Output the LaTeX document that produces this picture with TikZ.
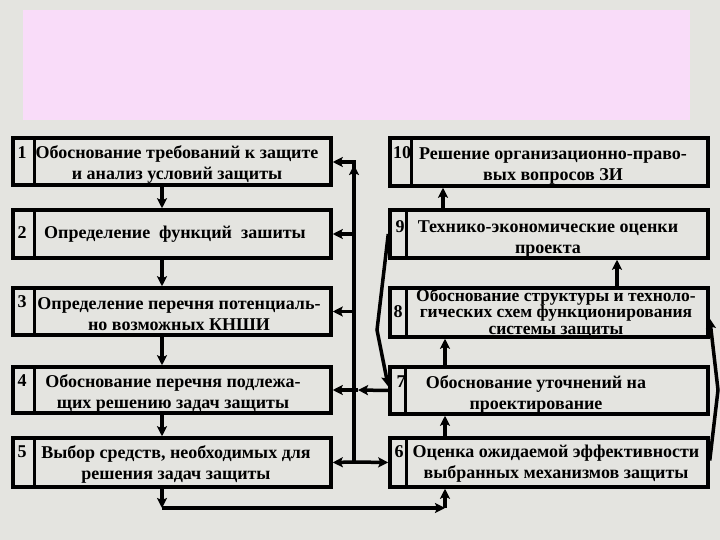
\documentclass[tikz,border=0pt]{standalone}
\usepackage{fontspec}
\setmainfont{Liberation Serif}
\usetikzlibrary{arrows.meta}
\definecolor{bggray}{RGB}{228,228,224}
\definecolor{pinkfill}{RGB}{249,220,249}
\tikzset{
  boxnode/.style={draw=black, line width=3.5pt, minimum width=318pt, inner sep=0pt},
  divline/.style={draw=black, line width=3.5pt},
  numtxt/.style={font=\fontsize{18}{20}\selectfont\bfseries, inner sep=0pt},
  boxtxt/.style={font=\fontsize{18}{21}\selectfont\bfseries, align=center, inner sep=0pt},
  tighttxt/.style={font=\fontsize{17.5}{16.5}\selectfont\bfseries, align=center, inner sep=0pt},
  conn/.style={draw=black, line width=3.5pt},
  arr/.style={conn, -{Stealth[length=10pt,width=10pt,inset=2pt]}},
}
\begin{document}
\begin{tikzpicture}[x=1pt,y=-1pt]
\useasboundingbox (0,0) rectangle (720,540);
\fill[bggray] (0,0) rectangle (720,540);
\fill[pinkfill] (23,10) rectangle (690,120);

% ---------- left column ----------
\node[boxnode, minimum height=47pt] (b1) at (172,161.5) {};
\node[boxnode, minimum height=48pt] (b2) at (172,234) {};
\node[boxnode, minimum height=47pt] (b3) at (172,311.5) {};
\node[boxnode, minimum height=46pt] (b4) at (172,390) {};
\node[boxnode, minimum height=49pt] (b5) at (172,462.5) {};
\foreach \b in {b1,b2,b3,b4,b5}{
  \draw[divline] ([xshift=23pt]\b.north west) -- ([xshift=23pt]\b.south west);
}
% ---------- right column ----------
\node[boxnode, minimum height=48pt] (b10) at (549,162) {};
\node[boxnode, minimum height=48pt] (b9) at (549,234) {};
\node[boxnode, minimum height=49pt] (b8) at (549,312.5) {};
\node[boxnode, minimum height=47pt] (b7) at (549,390.5) {};
\node[boxnode, minimum height=49pt] (b6) at (549,462.5) {};
\draw[divline] ([xshift=23pt]b10.north west) -- ([xshift=23pt]b10.south west);
\foreach \b in {b9,b8,b6}{
  \draw[divline] ([xshift=18pt]\b.north west) -- ([xshift=18pt]\b.south west);
}
\draw[divline] ([xshift=17pt]b7.north west) -- ([xshift=17pt]b7.south west);

% ---------- numbers ----------
\node[numtxt] (n1) at (22,153) {1};
\node[numtxt] (n2) at (22,233) {2};
\node[numtxt] (n3) at (22,302) {3};
\node[numtxt] (n4) at (22,381) {4};
\node[numtxt] (n5) at (22,452) {5};
\node[numtxt] (n10) at (402,153) {10};
\node[numtxt] (n9) at (400,227) {9};
\node[numtxt] (n8) at (398,312) {8};
\node[numtxt] (n7) at (401,382) {7};
\node[numtxt] (n6) at (399,452) {6};

% ---------- texts ----------
\node[boxtxt] (t1) at (177,165) {Обоснование требований к защите\\и анализ условий защиты};
\node[boxtxt] (t2) at (175,234) {Определение~~функций~~зашиты};
\node[boxtxt] (t3) at (179,314) {Определение перечня потенциаль-\\но возможных КНШИ};
\node[boxtxt] (t4) at (173,393) {Обоснование перечня подлежа-\\щих решению задач защиты};
\node[boxtxt] (t5) at (176,464) {Выбор средств, необходимых для\\решения задач защиты};
\node[boxtxt] (t10) at (553,166) {Решение организационно-право-\\вых вопросов ЗИ};
\node[boxtxt] (t9) at (548,239) {Технико-экономические оценки\\проекта};
\node[tighttxt] (t8) at (556,313) {Обоснование структуры и техноло-\\гических схем функционирования\\системы защиты};
\node[boxtxt] (t7) at (536,394) {Обоснование уточнений на\\проектирование};
\node[boxtxt] (t6) at (556,464) {Оценка ожидаемой эффективности\\выбранных механизмов защиты};

% ---------- helper coordinates ----------
\coordinate (cl) at (162,0);
\coordinate (cv) at (354,0);
\coordinate (ctop) at (354,162);
\coordinate (cbot) at (354,462);
\coordinate (cmid) at (358,390);
\coordinate (cb1) at (162,508);
\coordinate (cb2) at (445,508);
\coordinate (cr1) at (445,0);
\coordinate (cr2) at (617,0);
\coordinate (cr3) at (443,0);
\coordinate (cs1) at (377,330);
\coordinate (cs2) at (718,390);

% ---------- left chain ----------
\draw[arr] (b1.south -| cl) -- (b2.north -| cl);
\draw[arr] (b2.south -| cl) -- (b3.north -| cl);
\draw[arr] (b3.south -| cl) -- (b4.north -| cl);
\draw[arr] (b4.south -| cl) -- (b5.north -| cl);
\draw[arr] (b5.south -| cl) -- (cb1);
\draw[arr] (cb1) -- (cb2);
\draw[arr] (cb2) -- (b6.south -| cb2);

% ---------- right chain ----------
\draw[arr] (b6.north -| cr1) -- (b7.south -| cr1);
\draw[arr] (b7.north -| cr1) -- (b8.south -| cr1);
\draw[arr] (b8.north -| cr2) -- (b9.south -| cr2);
\draw[arr] (b9.north -| cr3) -- (b10.south -| cr3);

% ---------- feedback bus ----------
\draw[arr] (cbot) -- ([yshift=-3pt]ctop);
\draw[conn] (cbot) -- (ctop);
\draw[arr] ([xshift=1.75pt]ctop) -- (ctop -| b1.east);
\draw[arr] (cv |- b2.east) -- (b2.east);
\draw[arr] (cv |- b3.east) -- (b3.east);
\draw[arr] (cbot) -- (b5.east);
\draw[arr] (cbot) -- (b6.west);
\draw[arr] (b7.west) -- (cmid);
\draw[arr] (cmid) -- (b4.east);

% ---------- slanted feedback ----------
\draw[arr] (b9.west) -- (cs1) -- ([yshift=4pt]b7.west);
\draw[arr] ([yshift=2pt]b6.east) -- (cs2) -- ([yshift=-6pt]b8.east);
\end{tikzpicture}
\end{document}
